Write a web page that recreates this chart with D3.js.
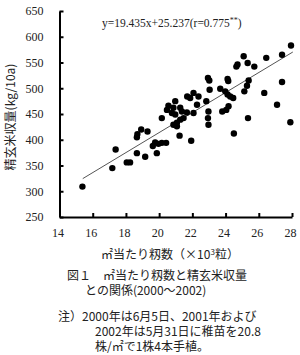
<!DOCTYPE html>
<html>
<head>
<meta charset="utf-8">
<script src="https://cdn.jsdelivr.net/npm/d3@7/dist/d3.min.js"></script>
<style>
body { margin:0; background:#fff; }
svg { display:block; }
.tick text { font-family:"Liberation Serif", serif; font-size:12px; fill:#222; }
.jp { font-family:"Noto Sans CJK JP", sans-serif; fill:#222; }
</style>
</head>
<body>
<svg id="chart"></svg>
<script>
// panicles per m2 (x1000) and brown rice yield (kg/10a)
var panicles = [27.94,27.40,26.45,25.09,25.33,24.72,24.65,25.73,22.94,23.02,
                24.12,24.16,25.39,27.40,23.04,23.68,23.98,24.12,24.28,24.46,
                25.29,25.13,26.33,22.07,22.37,21.87,21.69,22.84,27.10,24.18,
                24.04,23.80,20.56,20.86,20.47,21.27,21.37,21.67,22.07,22.97,
                22.94,25.35,20.77,20.97,21.47,21.27,21.07,20.86,21.07,22.97,
                20.16,27.90,22.28,20.97,
                15.38,17.18,17.38,18.05,18.25,18.66,19.16,18.66,18.69,18.92,
                19.30,19.62,19.76,19.96,20.16,20.42,19.86,21.23,21.93,24.50];
var yields   = [583,565,559,562,549,546,542,542,520,515,
                518,514,515,512,497,499,494,488,484,481,
                505,494,491,491,484,481,484,475,468,465,
                458,455,466,462,458,462,455,453,452,455,
                442,442,452,449,442,439,433,429,426,429,
                442,434,468,475,
                309,345,381,356,356,374,367,405,411,420,
                416,388,395,392,394,394,374,408,398,412];
var xTicks = [14,16,18,20,22,24,26,28];
var yTicks = [250,300,350,400,450,500,550,600,650];
var fit = {slope:19.435, intercept:25.237};
var fitRange = [15.4, 28.05];

var screen = {width:300,height:355};
var margins = {left:59.5,top:11};
var graph = {width:232.5,height:206};

var svg = d3.select("#chart")
    .attr("width",screen.width)
    .attr("height",screen.height);

var xScale = d3.scaleLinear().domain([14,28]).range([0,graph.width]);
var yScale = d3.scaleLinear().domain([250,650]).range([graph.height,0]);

var target = svg.append("g")
    .attr("transform","translate("+margins.left+","+margins.top+")");

// axes, ticks pointing inward
var yAxis = d3.axisLeft(yScale).tickValues(yTicks).tickSizeInner(-4).tickSizeOuter(0).tickPadding(16);
var xAxis = d3.axisBottom(xScale).tickValues(xTicks).tickSizeInner(-4).tickSizeOuter(0).tickPadding(11);

var gy = target.append("g").call(yAxis);
var gx = target.append("g").attr("transform","translate(0,"+graph.height+")").call(xAxis);
[gy,gx].forEach(function(g){
    g.select(".domain").attr("stroke","#000").attr("stroke-width",2);
    g.selectAll(".tick line").attr("stroke","#000").attr("stroke-width",2);
});
gx.selectAll(".tick text").attr("dx",-2);

// regression line
var line = d3.line()
    .x(function(d){ return xScale(d); })
    .y(function(d){ return yScale(fit.slope*d+fit.intercept); });
target.append("path")
    .datum(fitRange)
    .attr("d",line)
    .attr("fill","none")
    .attr("stroke","#555")
    .attr("stroke-width",1);

// points
target.selectAll("circle")
    .data(panicles)
    .enter()
    .append("circle")
    .attr("cx",function(d){ return xScale(d); })
    .attr("cy",function(d,i){ return yScale(yields[i]); })
    .attr("r",3.2)
    .attr("fill","#000");

// equation
var eq = svg.append("text")
    .attr("x",102).attr("y",27)
    .style("font-family","'Liberation Serif', serif")
    .style("font-size","11.5px")
    .attr("fill","#222");
eq.append("tspan").text("y=19.435x+25.237(r=0.775");
eq.append("tspan").text("**").attr("font-size","8px").attr("dy",-4);
eq.append("tspan").text(")").attr("dy",4);

// axis titles
svg.append("text").classed("jp",true)
    .attr("transform","translate(15,117) rotate(-90)")
    .attr("text-anchor","middle")
    .style("font-size","12px")
    .text("精玄米収量(kg/10a)");

var xt = svg.append("text").classed("jp",true)
    .attr("x",170).attr("y",259)
    .attr("text-anchor","middle")
    .style("font-size","12px");
xt.append("tspan").text("㎡当たり籾数（×10");
xt.append("tspan").text("3").attr("font-size","8px").attr("dy",-4);
xt.append("tspan").text("粒）").attr("dy",4);

// caption and note
var caption = [
    {t:"図１　㎡当たり籾数と精玄米収量",x:67,y:280},
    {t:"との関係(2000～2002)",x:85,y:295},
    {t:"注）2000年は6月5日、2001年および",x:58,y:321},
    {t:"2002年は5月31日に稚苗を20.8",x:95,y:336},
    {t:"株/㎡で1株4本手植。",x:95,y:351}
];
svg.selectAll("text.cap")
    .data(caption)
    .enter()
    .append("text")
    .attr("class","cap jp")
    .attr("x",function(d){ return d.x; })
    .attr("y",function(d){ return d.y; })
    .style("font-size","12px")
    .text(function(d){ return d.t; });
</script>
</body>
</html>
